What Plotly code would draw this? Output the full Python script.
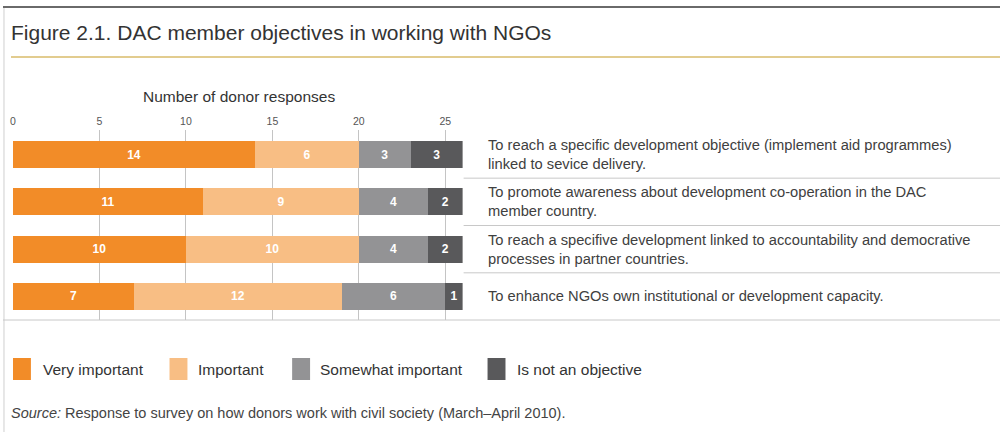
import plotly.graph_objects as go

# ---------------- data ----------------
objectives = [
    "To reach a specific development objective (implement aid programmes)<br>linked to sevice delivery.",
    "To promote awareness about development co-operation in the DAC<br>member country.",
    "To reach a specifive development linked to accountability and democrative<br>processes in partner countries.",
    "To enhance NGOs own institutional or development capacity.",
]
series_names = ["Very important", "Important", "Somewhat important", "Is not an objective"]
very_important = [14, 11, 10, 7]
important = [6, 9, 10, 12]
somewhat_important = [3, 4, 4, 6]
not_objective = [3, 2, 2, 1]
series_values = [very_important, important, somewhat_important, not_objective]
x_ticks = [0, 5, 10, 15, 20, 25]

title_text = "Figure 2.1. DAC member objectives in working with NGOs"
axis_title = "Number of donor responses"
source_text = "<i>Source:</i> Response to survey on how donors work with civil society (March\u2013April 2010)."

# ---------------- style ----------------
colors = ["#f28c28", "#f8be84", "#939395", "#59595b"]
W, H = 1000, 432
FONT = "Liberation Sans, Arial, sans-serif"
TXT = "#3a3a3a"


def py(p):  # pixel row -> paper y
    return 1 - p / H


def px(p):  # pixel column -> paper x
    return p / W


rows = list(range(len(objectives)))

fig = go.Figure()
for name, vals, col in zip(series_names, series_values, colors):
    fig.add_trace(go.Bar(
        y=rows, x=vals, orientation="h", name=name,
        marker=dict(color=col, line=dict(width=0)),
        text=[str(v) for v in vals], textposition="inside",
        insidetextanchor="middle", constraintext="none",
        textfont=dict(color="white", size=12, family=FONT, weight="bold"),
        width=0.57, showlegend=False, hoverinfo="skip",
    ))

plot_top, plot_bot = 130, 320
fig.update_layout(
    barmode="stack",
    width=W, height=H,
    margin=dict(l=0, r=0, t=0, b=0),
    paper_bgcolor="white", plot_bgcolor="white",
    font=dict(family=FONT, color=TXT),
    xaxis=dict(
        domain=[px(10), px(461)], range=[0, 26], side="top",
        tickvals=x_ticks, ticktext=[str(t) for t in x_ticks],
        tickfont=dict(size=10.5, color="#555555"),
        showgrid=True, gridcolor="#c4c4c4", gridwidth=1,
        zeroline=False, showline=False, ticks="", ticklabelstandoff=2,
    ),
    yaxis=dict(
        domain=[py(plot_bot), py(plot_top)], range=[3.497, -0.518],
        showticklabels=False, showgrid=False, zeroline=False, showline=False,
    ),
)

shapes = []
# outer frame: top dark line and left light line
shapes.append(dict(type="line", xref="paper", yref="paper", x0=0, x1=1, y0=py(7), y1=py(7),
                   line=dict(color="#6a6a6a", width=2)))
shapes.append(dict(type="line", xref="paper", yref="paper", x0=px(1), x1=px(1), y0=py(8), y1=0,
                   line=dict(color="#cfcfcf", width=1)))
# gold rule under title
shapes.append(dict(type="line", xref="paper", yref="paper", x0=px(8), x1=1, y0=py(57), y1=py(57),
                   line=dict(color="#d9bb6a", width=1.5)))
# separators between labels
for i in range(len(objectives) - 1):
    shapes.append(dict(type="line", xref="paper", yref="y", x0=px(462), x1=1, y0=i + 0.5, y1=i + 0.5,
                       line=dict(color="#c8c8c8", width=1)))
# bottom rule
shapes.append(dict(type="line", xref="paper", yref="paper", x0=0, x1=1, y0=py(plot_bot), y1=py(plot_bot),
                   line=dict(color="#c8c8c8", width=1)))

annotations = []
annotations.append(dict(text=title_text, xref="paper", yref="paper", x=px(6), y=py(32),
                        xanchor="left", yanchor="middle", showarrow=False,
                        font=dict(size=21, color="#333333")))
annotations.append(dict(text=axis_title, xref="paper", yref="paper", x=px(237), y=py(97),
                        xanchor="center", yanchor="middle", showarrow=False,
                        font=dict(size=15.5, color="#333333")))
for i, lab in enumerate(objectives):
    annotations.append(dict(text=lab, xref="paper", yref="y", x=px(484), y=i,
                            xanchor="left", yanchor="middle", align="left", showarrow=False,
                            font=dict(size=14.7, color="#404040")))

# legend drawn manually
leg_sq_x = [10, 167, 290, 486]
leg_txt_x = [38, 194, 316, 514]
for name, col, sx, tx in zip(series_names, colors, leg_sq_x, leg_txt_x):
    shapes.append(dict(type="rect", xref="paper", yref="paper", x0=px(sx), x1=px(sx + 18),
                       y0=py(380), y1=py(358), fillcolor=col, line=dict(width=0)))
    annotations.append(dict(text=name, xref="paper", yref="paper", x=px(tx), y=py(369),
                            xanchor="left", yanchor="middle", showarrow=False,
                            font=dict(size=15.5, color="#333333")))

annotations.append(dict(text=source_text, xref="paper", yref="paper", x=px(6), y=py(413),
                        xanchor="left", yanchor="middle", showarrow=False,
                        font=dict(size=14.5, color="#444444")))

fig.update_layout(shapes=shapes, annotations=annotations)
fig.write_html("out.html")
